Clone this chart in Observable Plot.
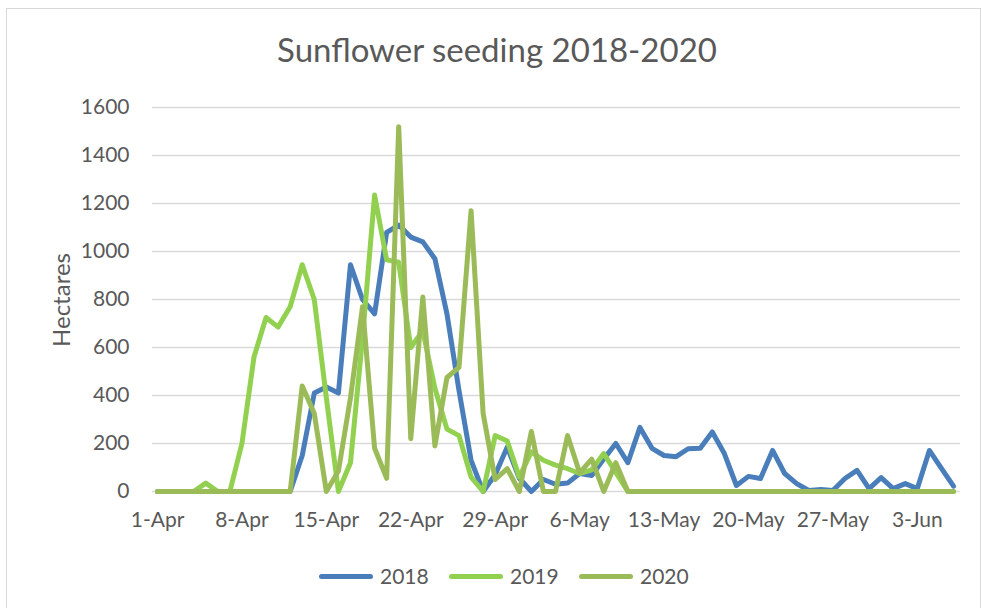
<!DOCTYPE html>
<html>
<head>
<meta charset="utf-8">
<script src="https://cdn.jsdelivr.net/npm/d3@7"></script>
<script src="https://cdn.jsdelivr.net/npm/@observablehq/plot@0.6"></script>
<style>
  html, body { margin: 0; padding: 0; background: #fff; }
  #wrap { position: relative; width: 981px; height: 608px; overflow: hidden; font-family: Lato, "Open Sans", sans-serif; color: #595959; }
  #border { position: absolute; left: 6px; top: 8px; width: 975px; height: 605px; border: 1px solid #d9d9d9; box-sizing: border-box; }
  #title { position: absolute; left: 0; width: 994px; top: 33px; text-align: center; font-size: 33px; line-height: 33px; white-space: nowrap; }
  #ylabel { position: absolute; left: 61px; top: 300px; transform: translate(-50%, -50%) rotate(-90deg); font-size: 24px; line-height: 24px; white-space: nowrap; }
  #chart { position: absolute; left: 0; top: 0; }
  .leg { position: absolute; top: 565px; display: flex; align-items: center; font-size: 21px; line-height: 22px; }
  .sw { display: inline-block; width: 54px; height: 5px; border-radius: 3px; margin-right: 7px; }
</style>
</head>
<body>
<div id="wrap">
  <div id="border"></div>
  <div id="chart"></div>
  <div id="title">Sunflower seeding 2018-2020</div>
  <div id="ylabel">Hectares</div>
  <div id="legend"></div>
</div>
<script>
// Categories: daily dates from 1-Apr to 6-Jun (67 days)
const startDate = "2001-04-01";
const dayCount = 67;
const seriesNames = ["2018", "2019", "2020"];
const seriesColors = ["#4a7ebb", "#92d050", "#9bbb59"];
const yTicks = [0, 200, 400, 600, 800, 1000, 1200, 1400, 1600];
const xTickLabels = ["1-Apr", "8-Apr", "15-Apr", "22-Apr", "29-Apr", "6-May", "13-May", "20-May", "27-May", "3-Jun"];

const values2018 = [
  0, 0, 0, 0, 0, 0, 0, 0, 0, 0, 0, 0,
  150, 410, 435, 410, 945, 800, 740, 1080, 1110, 1060, 1040, 970, 740, 420, 130, 0,
  70, 185, 55, 0, 50, 30, 35, 75, 67, 135, 200, 120, 267, 180, 150, 145, 178, 180, 248, 158,
  25, 63, 54, 171, 75, 33, 4, 8, 4, 54, 88, 12, 58, 12, 33, 12, 171, 96, 22
];
const values2019 = [
  0, 0, 0, 0, 35, 0, 0, 200, 560, 725, 685, 770, 945, 800, 390, 0, 120, 640, 1235, 965,
  955, 600, 670, 430, 260, 233, 60, 0, 233, 210, 60, 165, 130, 110, 95, 75, 90, 158, 80, 0,
  0, 0, 0, 0, 0, 0, 0, 0, 0, 0, 0, 0, 0, 0, 0, 0, 0, 0, 0, 0, 0, 0, 0, 0, 0, 0, 0
];
const values2020 = [
  0, 0, 0, 0, 0, 0, 0, 0, 0, 0, 0, 0,
  440, 325, 0, 85, 390, 770, 180, 55, 1520, 220, 810, 190, 475, 517, 1170, 325,
  50, 95, 0, 250, 0, 0, 233, 78, 135, 0, 120, 0,
  0, 0, 0, 0, 0, 0, 0, 0, 0, 0, 0, 0, 0, 0, 0, 0, 0, 0, 0, 0, 0, 0, 0, 0, 0, 0, 0
];

const start = new Date(startDate + "T00:00:00Z");
const dates = d3.range(dayCount).map(i => d3.utcDay.offset(start, i));
const fmt = d3.utcFormat("%-d-%b");
const tickDates = dates.filter(d => xTickLabels.includes(fmt(d)));

const seriesValues = [values2018, values2019, values2020];
const data = [];
seriesNames.forEach((name, s) => {
  seriesValues[s].forEach((v, i) => data.push({date: dates[i], value: v, series: name}));
});

const chart = Plot.plot({
  width: 981,
  height: 608,
  marginLeft: 152,
  marginRight: 21,
  marginTop: 107,
  marginBottom: 117,
  style: {fontFamily: "Lato, 'Open Sans', sans-serif", fontSize: "21px", color: "#595959", background: "transparent", overflow: "visible"},
  x: {type: "utc", domain: [dates[0], dates[dates.length - 1]], insetLeft: 5, insetRight: 7, ticks: tickDates, tickFormat: fmt, tickSize: 0, tickPadding: 21, label: null},
  y: {domain: [0, 1600], ticks: yTicks, tickSize: 0, tickPadding: 23, tickFormat: d => String(d), label: null},
  color: {domain: seriesNames, range: seriesColors},
  marks: [
    Plot.ruleY(yTicks, {stroke: "#d9d9d9", strokeWidth: 1.5}),
    Plot.lineY(data, {x: "date", y: "value", z: "series", stroke: "series", strokeWidth: 5, strokeLinejoin: "round", strokeLinecap: "round"})
  ]
});
document.getElementById("chart").appendChild(chart);

const legend = document.getElementById("legend");
const legendLeft = [319, 449, 579];
seriesNames.forEach((name, i) => {
  const item = document.createElement("div");
  item.className = "leg";
  item.style.left = legendLeft[i] + "px";
  const sw = document.createElement("span");
  sw.className = "sw";
  sw.style.background = seriesColors[i];
  item.appendChild(sw);
  item.appendChild(document.createTextNode(name));
  legend.appendChild(item);
});
</script>
</body>
</html>
